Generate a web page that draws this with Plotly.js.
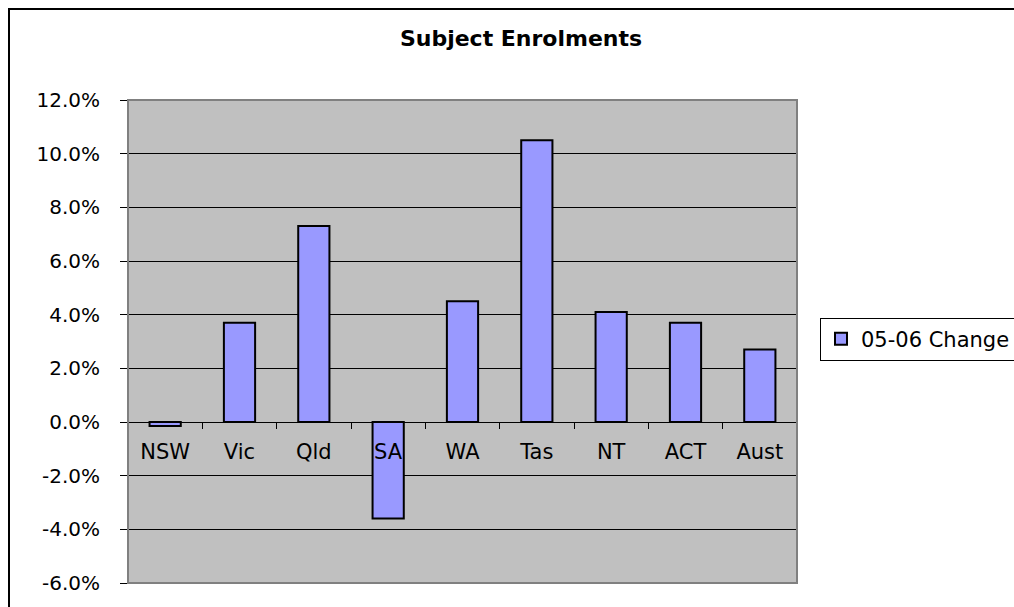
<!DOCTYPE html>
<html>
<head>
<meta charset="utf-8">
<script src="https://cdn.plot.ly/plotly-3.0.1.min.js"></script>
<style>html,body{margin:0;padding:0;background:#fff;}#chart{width:1014px;height:607px;}</style>
</head>
<body>
<div id="chart"></div>
<script>
var categories = ["NSW", "Vic", "Qld", "SA", "WA", "Tas", "NT", "ACT", "Aust"];
var change0506 = [-0.15, 3.7, 7.3, -3.6, 4.5, 10.5, 4.1, 3.7, 2.7];
var seriesName = "05-06 Change";
var chartTitle = "Subject Enrolments";
var yTickVals = [-6, -4, -2, 0, 2, 4, 6, 8, 10, 12];
var yTickText = yTickVals.map(function(v){ return v.toFixed(1) + "%"; });

var FONT = "DejaVu Sans, Liberation Sans, Arial, sans-serif";
var L = 128, R = 797, T = 100, B = 583, W = 1014, H = 607;
var pw = R - L, ph = B - T;
function px(x){ return (x - L) / pw; }
function py(y){ return (B - y) / ph; }

var trace = {
  type: "bar",
  x: categories,
  y: change0506,
  name: seriesName,
  width: 0.42,
  marker: {color: "#9999ff", line: {color: "#000000", width: 2}},
  showlegend: true,
  hoverinfo: "x+y"
};

var layout = {
  width: W, height: H,
  margin: {l: L, r: W - R, t: T, b: H - B, pad: 0, autoexpand: false},
  paper_bgcolor: "#ffffff",
  plot_bgcolor: "#c0c0c0",
  font: {family: FONT, size: 20, color: "#000"},
  title: {
    text: "<b>" + chartTitle + "</b>",
    font: {family: FONT, size: 22, color: "#000"},
    xref: "container", yref: "container",
    x: 521 / W, y: 1 - 38 / H, xanchor: "center", yanchor: "middle"
  },
  xaxis: {
    type: "category",
    anchor: "free",
    position: 6 / 18,
    showline: true, linecolor: "#000", linewidth: 1,
    ticks: "outside", tickson: "boundaries", ticklen: 6, tickcolor: "#000", tickwidth: 1,
    ticklabelstandoff: 11,
    showgrid: false, zeroline: false,
    tickfont: {family: FONT, size: 21, color: "#000"},
    fixedrange: true
  },
  yaxis: {
    range: [-6, 12],
    tickvals: yTickVals,
    ticktext: yTickText,
    showgrid: true, gridcolor: "#000", gridwidth: 1,
    zeroline: false,
    showline: true, linecolor: "#808080", linewidth: 1,
    ticks: "outside", ticklen: 7, tickcolor: "#000", tickwidth: 1,
    ticklabelstandoff: 16,
    tickfont: {family: FONT, size: 20, color: "#000"},
    fixedrange: true
  },
  legend: {
    x: px(820), y: py(339), xanchor: "left", yanchor: "middle",
    bordercolor: "#000", borderwidth: 1, bgcolor: "#fff",
    font: {family: FONT, size: 21, color: "#000"},
    itemwidth: 30,
    tracegroupgap: 0
  },
  shapes: [
    {type: "rect", xref: "paper", yref: "paper", x0: 0, x1: 1, y0: 0, y1: 1,
     line: {color: "#808080", width: 2}, fillcolor: "rgba(0,0,0,0)", layer: "above"},
    {type: "rect", xref: "paper", yref: "paper", x0: px(9), x1: px(1030), y0: py(625), y1: py(9),
     line: {color: "#000", width: 2}, fillcolor: "rgba(0,0,0,0)", layer: "above"}
  ],
  bargap: 0.58
};

Plotly.newPlot("chart", [trace], layout, {displayModeBar: false, staticPlot: true});
</script>
</body>
</html>
